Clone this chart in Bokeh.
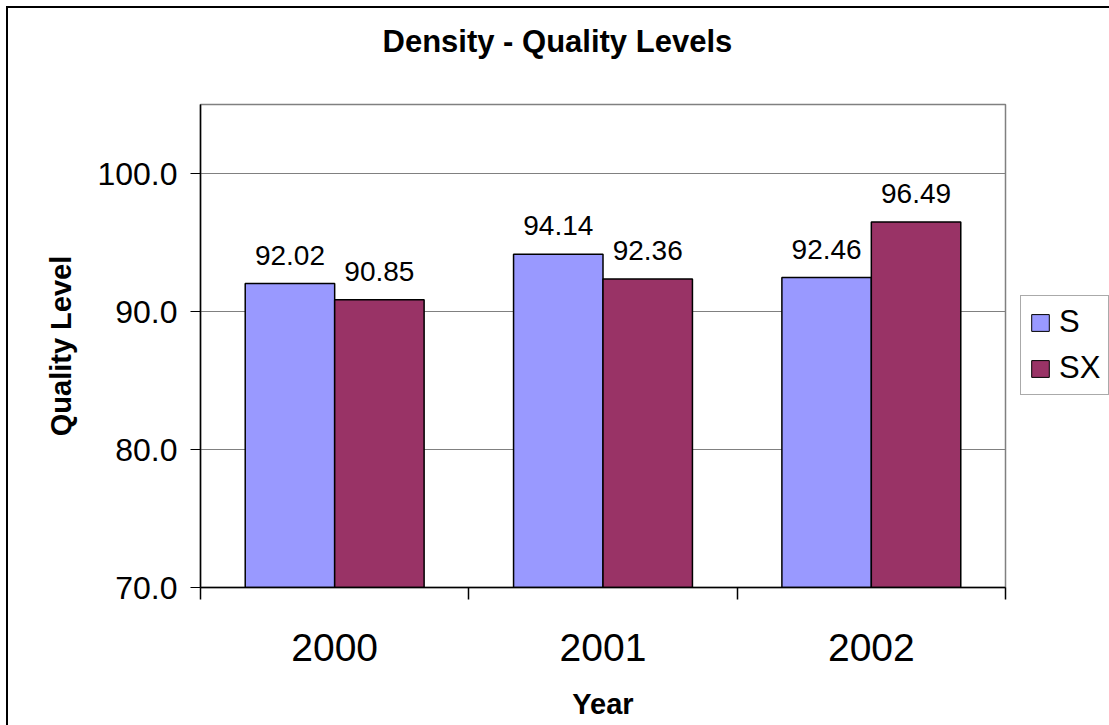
from bokeh.plotting import figure
from bokeh.layouts import row
from bokeh.models import (ColumnDataSource, Range1d, FixedTicker, PrintfTickFormatter,
                          LabelSet, Legend, LegendItem, Title)
from bokeh.core.properties import value
from bokeh.embed import file_html
from bokeh.resources import INLINE

# ---- data ----
years = ["2000", "2001", "2002"]
series_names = ["S", "SX"]
s_values = [92.02, 94.14, 92.46]
sx_values = [90.85, 92.36, 96.49]
y_ticks = [70, 80, 90, 100]
y_start, y_end = 70, 105
colors = ["#9999FF", "#993366"]
chart_title = "Density - Quality Levels"

FONT = "Liberation Sans"

p = figure(width=999, height=717, output_backend="svg", toolbar_location=None,
           x_range=Range1d(0, len(years)), y_range=Range1d(y_start, y_end),
           min_border_left=192, min_border_right=2, min_border_top=96, min_border_bottom=138)
p.title.text = ""
p.background_fill_color = "white"
p.border_fill_color = "white"
p.outline_line_color = "#808080"
p.outline_line_width = 1.5

# spacer between title and plot area (closest to frame), then the real title
spacer = Title(text=" ", text_font=FONT, text_font_size="10px", standoff=28)
p.add_layout(spacer, "above")
main_title = Title(text=chart_title, text_font=FONT, text_font_size="31px",
                   text_font_style="bold", text_color="black", align="left",
                   offset=182, standoff=10)
p.add_layout(main_title, "above")

bw = 1.0 / 3.0
sources = []
renderers = []
for k, (name, vals) in enumerate(zip(series_names, [s_values, sx_values])):
    xs = [i + 0.5 + (k - 0.5) * bw for i in range(len(years))]
    src = ColumnDataSource(dict(x=xs, top=vals, label=["%.2f" % v for v in vals]))
    sources.append(src)
    r = p.vbar(x="x", top="top", bottom=y_start, width=bw, source=src,
               fill_color=colors[k], line_color="black", line_width=1.5)
    renderers.append(r)
    labels = LabelSet(x="x", y="top", text="label", source=src, y_offset=19,
                      text_align="center", text_baseline="alphabetic",
                      text_font=value(FONT), text_font_size=value("28px"), text_color="black")
    p.add_layout(labels)

# grid
p.xgrid.visible = False
p.ygrid.ticker = FixedTicker(ticks=y_ticks)
p.ygrid.grid_line_color = "#808080"
p.ygrid.grid_line_width = 1

# y axis
ya = p.yaxis[0]
ya.ticker = FixedTicker(ticks=y_ticks, minor_ticks=[])
ya.formatter = PrintfTickFormatter(format="%.1f")
ya.axis_line_color = "black"
ya.axis_line_width = 1.5
ya.major_tick_in = 0
ya.major_tick_out = 10
ya.major_tick_line_color = "black"
ya.major_label_text_font = FONT
ya.major_label_text_font_size = "32px"
ya.major_label_text_color = "black"
ya.major_label_standoff = 13
ya.axis_label = "Quality Level"
ya.axis_label_text_font = FONT
ya.axis_label_text_font_size = "29px"
ya.axis_label_text_font_style = "bold"
ya.axis_label_text_color = "black"
ya.axis_label_standoff = 17

# x axis
xa = p.xaxis[0]
xa.ticker = FixedTicker(ticks=[i + 0.5 for i in range(len(years))],
                        minor_ticks=list(range(len(years) + 1)))
xa.major_label_overrides = {i + 0.5: y for i, y in enumerate(years)}
xa.axis_line_color = "black"
xa.axis_line_width = 1.5
xa.major_tick_in = 0
xa.major_tick_out = 0
xa.minor_tick_in = 0
xa.minor_tick_out = 12
xa.minor_tick_line_color = "black"
xa.minor_tick_line_width = 1.5
xa.major_label_text_font = FONT
xa.major_label_text_font_size = "39px"
xa.major_label_text_color = "black"
xa.major_label_standoff = 34
xa.axis_label = "Year"
xa.axis_label_text_font = FONT
xa.axis_label_text_font_size = "29px"
xa.axis_label_text_font_style = "bold"
xa.axis_label_text_color = "black"
xa.axis_label_standoff = 24

# ---- legend panel (separate canvas to the right of the plot area) ----
pl = figure(width=102, height=717, output_backend="svg", toolbar_location=None,
            x_range=Range1d(0, 1), y_range=Range1d(0, 1),
            min_border_left=0, min_border_right=0, min_border_top=0, min_border_bottom=0)
pl.axis.visible = False
pl.grid.visible = False
pl.outline_line_color = None
pl.background_fill_color = "white"
pl.border_fill_color = "white"
leg_renderers = []
for k, src in enumerate(sources):
    # hidden copies of the bars: only their legend swatches are drawn
    lr = pl.vbar(x="x", top="top", bottom=y_start, width=bw, source=src,
                 fill_color=colors[k], line_color="black", line_width=1)
    lr.visible = False
    leg_renderers.append(lr)

legend = Legend(items=[LegendItem(label=n, renderers=[r]) for n, r in zip(series_names, leg_renderers)],
                location=(13, 192), orientation="vertical")
legend.glyph_width = 22
legend.glyph_height = 21
legend.label_text_font = FONT
legend.label_text_font_size = "31px"
legend.label_text_color = "black"
legend.label_standoff = 8
legend.spacing = 10
legend.padding = 8
legend.margin = 0
legend.border_line_color = "#555555"
legend.border_line_width = 1
legend.background_fill_color = "white"
legend.background_fill_alpha = 1
pl.add_layout(legend, "center")

layout = row(p, pl)
layout.styles = {"margin-left": "6px", "margin-top": "6px",
                 "border-left": "2px solid black", "border-top": "2px solid black"}

open("out.html", "w").write(file_html(layout, INLINE))
